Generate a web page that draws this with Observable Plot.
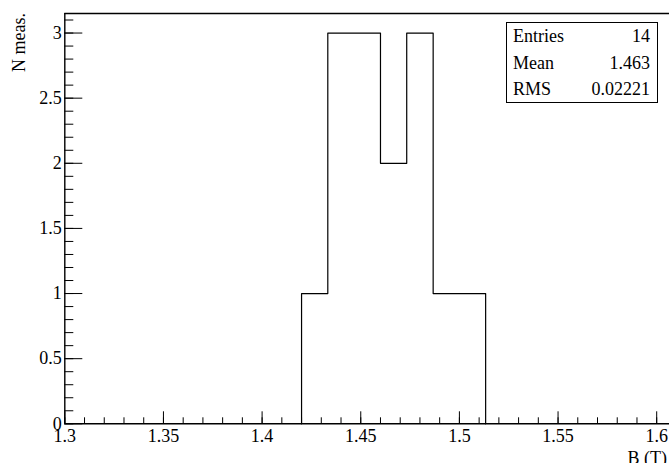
<!DOCTYPE html>
<html>
<head>
<meta charset="utf-8">
<script src="https://cdn.jsdelivr.net/npm/d3@7"></script>
<script src="https://cdn.jsdelivr.net/npm/@observablehq/plot@0.6"></script>
<style>
  html, body { margin: 0; padding: 0; background: #fff; }
  #wrap { position: relative; width: 669px; height: 463px; overflow: hidden; font-family: "Liberation Serif", "DejaVu Serif", serif; }
  #wrap svg text { font-family: "Liberation Serif", "DejaVu Serif", serif !important; font-size: 18px !important; fill: #000; }
  #stats { position: absolute; left: 506px; top: 22px; width: 150px; height: 79px; border: 1px solid #000; background: #fff; font-size: 18px; }
  #stats .row { position: absolute; left: 6px; right: 7px; height: 26px; display: flex; justify-content: space-between; line-height: 26px; }
</style>
</head>
<body>
<div id="wrap"></div>
<script>
// Histogram data (bin edges and counts)
const binEdges = [1.42, 1.4333, 1.4467, 1.46, 1.4733, 1.4867, 1.5, 1.5133];
const binCounts = [1, 3, 3, 2, 3, 1, 1];

// Axis ticks
const xMajor = [1.3, 1.35, 1.4, 1.45, 1.5, 1.55, 1.6];
const xMinor = d3.range(130, 161).map(d => d / 100);
const yMajor = [0, 0.5, 1, 1.5, 2, 2.5, 3];
const yMinor = d3.range(0, 32).map(d => d / 10);

// Stats box
const statNames = ["Entries", "Mean", "RMS"];
const statValues = ["14", "1.463", "0.02221"];

const xTitle = "B (T)";
const yTitle = "N meas.";

const W = 669, H = 463;
const mL = 64.3, mT = 13, mB = 39.7, mR = 0;
const plotW = W - mL - mR, plotH = H - mT - mB;
const xMax = 1.3 + plotW / 1973;

// step outline points
const pts = [{x: binEdges[0], y: 0}];
binCounts.forEach((c, i) => pts.push({x: binEdges[i], y: c}));
pts.push({x: binEdges[binEdges.length - 1], y: binCounts[binCounts.length - 1]});
pts.push({x: binEdges[binEdges.length - 1], y: 0});

const chart = Plot.plot({
  width: W, height: H,
  marginLeft: mL, marginRight: mR, marginTop: mT, marginBottom: mB,
  style: {fontFamily: "Liberation Serif", fontSize: "18px", color: "#000", background: "#fff", overflow: "hidden"},
  x: {domain: [1.3, xMax]},
  y: {domain: [0, 3.15]},
  marks: [
    Plot.line(pts, {x: "x", y: "y", curve: "step-after", stroke: "#000", strokeWidth: 1.2}),
    Plot.tickX(xMajor, {x: d => d, insetTop: plotH - 12, stroke: "#000", strokeWidth: 1}),
    Plot.tickX(xMinor, {x: d => d, insetTop: plotH - 6, stroke: "#000", strokeWidth: 1}),
    Plot.tickY(yMajor, {y: d => d, insetRight: plotW - 18, stroke: "#000", strokeWidth: 1}),
    Plot.tickY(yMinor, {y: d => d, insetRight: plotW - 9, stroke: "#000", strokeWidth: 1}),
    Plot.ruleY([0], {stroke: "#000", strokeWidth: 1.4}),
    Plot.ruleY([3.15], {stroke: "#000", strokeWidth: 1.4}),
    Plot.ruleX([1.3], {stroke: "#000", strokeWidth: 1.4}),
    Plot.axisX(xMajor, {tickSize: 0, tickPadding: 5, fontSize: 18, label: null, tickFormat: d => String(d)}),
    Plot.axisY(yMajor, {tickSize: 0, tickPadding: 3, fontSize: 18, label: null, tickFormat: d => String(d)})
  ]
});

const wrap = document.getElementById("wrap");
wrap.appendChild(chart);

const svg = d3.select(chart);
svg.append("text")
  .attr("transform", "translate(25,13) rotate(-90)")
  .attr("text-anchor", "end")
  .attr("font-size", 18)
  .attr("font-family", "Liberation Serif")
  .attr("fill", "#000")
  .text(yTitle);
svg.append("text")
  .attr("x", 627.5).attr("y", 464)
  .attr("text-anchor", "start")
  .attr("font-size", 18)
  .attr("font-family", "Liberation Serif")
  .attr("fill", "#000")
  .text(xTitle);

const box = document.createElement("div");
box.id = "stats";
statNames.forEach((n, i) => {
  const r = document.createElement("div");
  r.className = "row";
  r.style.top = (i * 26.5) + "px";
  const a = document.createElement("span"); a.textContent = n;
  const b = document.createElement("span"); b.textContent = statValues[i];
  r.appendChild(a); r.appendChild(b);
  box.appendChild(r);
});
wrap.appendChild(box);
</script>
</body>
</html>
